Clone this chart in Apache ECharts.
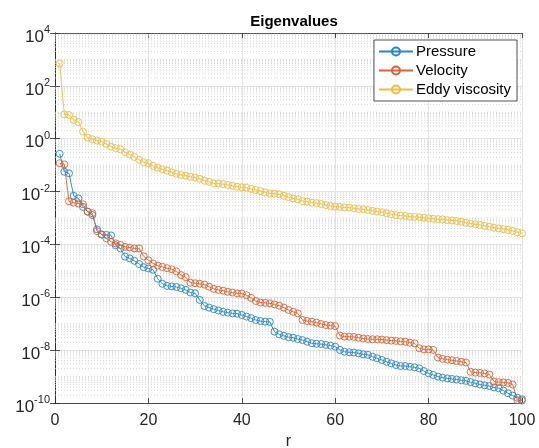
<!DOCTYPE html>
<html>
<head>
<meta charset="utf-8">
<script src="https://cdn.jsdelivr.net/npm/echarts@6/dist/echarts.min.js"></script>
<style>
html,body{margin:0;padding:0;background:#fff;}
#chart{width:539px;height:448px;}
</style>
</head>
<body>
<div id="chart"></div>
<script>
// r index 1..100
const r = Array.from({length: 100}, (_, i) => i + 1);

const pressure = [
2.69e-1,5.62e-2,4.90e-2,6.92e-3,5.50e-3,2.63e-3,1.74e-3,1.29e-3,3.72e-4,2.34e-4,
2.29e-4,2.19e-4,9.33e-5,7.08e-5,3.47e-5,2.95e-5,2.40e-5,1.82e-5,1.38e-5,1.23e-5,
1.10e-5,5.01e-6,3.24e-6,2.69e-6,2.57e-6,2.46e-6,2.19e-6,1.91e-6,1.51e-6,1.41e-6,
7.94e-7,4.68e-7,4.07e-7,3.55e-7,3.16e-7,2.82e-7,2.63e-7,2.46e-7,2.40e-7,2.14e-7,
1.86e-7,1.62e-7,1.38e-7,1.26e-7,1.20e-7,1.18e-7,5.01e-8,3.98e-8,3.47e-8,3.09e-8,
2.95e-8,2.63e-8,2.40e-8,2.09e-8,1.82e-8,1.74e-8,1.70e-8,1.58e-8,1.48e-8,1.35e-8,
1.02e-8,8.71e-9,8.32e-9,8.13e-9,7.59e-9,6.92e-9,6.61e-9,5.62e-9,4.90e-9,4.27e-9,
3.63e-9,3.16e-9,2.75e-9,2.51e-9,2.51e-9,2.34e-9,2.24e-9,2.04e-9,1.62e-9,1.32e-9,
1.15e-9,1.00e-9,9.12e-10,8.51e-10,8.13e-10,7.76e-10,7.24e-10,6.92e-10,6.17e-10,5.50e-10,
5.01e-10,4.68e-10,4.37e-10,3.89e-10,3.63e-10,2.95e-10,2.34e-10,1.91e-10,1.58e-10,1.38e-10
];

const velocity = [
1.18e-1,1.07e-1,4.27e-3,3.80e-3,3.55e-3,3.31e-3,1.74e-3,1.51e-3,3.16e-4,2.40e-4,
1.70e-4,1.26e-4,1.10e-4,9.55e-5,8.13e-5,7.59e-5,7.08e-5,7.08e-5,3.55e-5,2.51e-5,
1.91e-5,1.58e-5,1.41e-5,1.26e-5,1.15e-5,9.55e-6,6.92e-6,5.75e-6,3.55e-6,3.39e-6,
3.24e-6,3.02e-6,2.51e-6,2.09e-6,1.91e-6,1.78e-6,1.62e-6,1.51e-6,1.41e-6,1.38e-6,
1.20e-6,9.55e-7,7.24e-7,6.31e-7,6.17e-7,5.89e-7,5.37e-7,4.79e-7,4.07e-7,3.31e-7,
2.82e-7,2.46e-7,1.38e-7,1.26e-7,1.20e-7,1.10e-7,9.77e-8,8.91e-8,8.51e-8,8.13e-8,
3.55e-8,3.24e-8,3.24e-8,3.16e-8,2.95e-8,2.75e-8,2.63e-8,2.57e-8,2.57e-8,2.51e-8,
2.40e-8,2.29e-8,2.24e-8,2.14e-8,2.09e-8,1.91e-8,1.82e-8,1.18e-8,1.07e-8,1.07e-8,
1.02e-8,5.25e-9,4.68e-9,4.37e-9,4.17e-9,3.89e-9,3.63e-9,3.39e-9,1.51e-9,1.41e-9,
1.38e-9,1.32e-9,1.20e-9,6.46e-10,6.17e-10,6.03e-10,5.75e-10,5.01e-10,1.29e-10,1.23e-10
];

const eddyViscosity = [
7.08e2,8.32,7.94,5.13,4.27,1.86,1.10,9.55e-1,8.51e-1,7.76e-1,
6.31e-1,5.01e-1,4.37e-1,3.98e-1,3.09e-1,2.51e-1,2.04e-1,1.58e-1,1.29e-1,1.18e-1,
9.33e-2,7.94e-2,6.92e-2,6.17e-2,5.37e-2,4.68e-2,4.27e-2,3.98e-2,3.63e-2,3.39e-2,
3.02e-2,2.57e-2,2.34e-2,2.04e-2,2.00e-2,1.91e-2,1.78e-2,1.66e-2,1.51e-2,1.45e-2,
1.41e-2,1.26e-2,1.15e-2,1.05e-2,9.33e-3,8.51e-3,8.32e-3,7.94e-3,6.92e-3,6.17e-3,
5.50e-3,5.13e-3,4.37e-3,4.17e-3,3.80e-3,3.63e-3,3.39e-3,3.09e-3,2.82e-3,2.69e-3,
2.63e-3,2.51e-3,2.46e-3,2.34e-3,2.19e-3,2.14e-3,2.00e-3,1.86e-3,1.74e-3,1.66e-3,
1.51e-3,1.38e-3,1.29e-3,1.23e-3,1.20e-3,1.12e-3,1.10e-3,1.07e-3,1.02e-3,9.77e-4,
9.33e-4,9.12e-4,8.91e-4,8.32e-4,8.13e-4,7.76e-4,7.24e-4,6.61e-4,6.17e-4,5.75e-4,
5.50e-4,5.01e-4,4.68e-4,4.27e-4,4.07e-4,3.80e-4,3.55e-4,3.24e-4,2.88e-4,2.63e-4
];

const seriesNames = ['Pressure', 'Velocity', 'Eddy viscosity'];
const xTicks = [0, 20, 40, 60, 80, 100];
const yTickExponents = [-10, -8, -6, -4, -2, 0, 2, 4];

const colors = ['#2a86c6', '#dc6232', '#eebd45'];
const FONT = '"Liberation Sans", Arial, Helvetica, sans-serif';
const AX = '#262626';

// minor (dotted) horizontal grid lines at k*10^e, drawn as broken line segments across the x range
const minorGridData = [];
for (let e = yTickExponents[0]; e < yTickExponents[yTickExponents.length - 1]; e++) {
  for (let k = 1; k <= 9; k++) {
    if (k === 1 && yTickExponents.indexOf(e) >= 0) continue;
    const v = k * Math.pow(10, e);
    minorGridData.push([xTicks[0], v], [xTicks[xTicks.length - 1], v], [xTicks[xTicks.length - 1], '-']);
  }
}

function pairs(arr) { return arr.map((v, i) => [r[i], v]); }

const chart = echarts.init(document.getElementById('chart'), null, { renderer: 'canvas' });

const mkSeries = (name, data, color) => ({
  name: name,
  type: 'line',
  data: pairs(data),
  symbol: 'circle',
  symbolSize: 7,
  showSymbol: true,
  lineStyle: { color: color, width: 0.9 },
  itemStyle: { color: 'rgba(255,255,255,0)', borderColor: color, borderWidth: 0.9 },
  emphasis: { disabled: true },
  z: 3
});

const tickStyle = { show: true, inside: true, length: 5, lineStyle: { color: AX, width: 0.8 } };
const lineStyleAx = { show: true, lineStyle: { color: AX, width: 0.8 } };

chart.setOption({
  animation: false,
  backgroundColor: '#fff',
  title: {
    text: 'Eigenvalues',
    left: 289, textAlign: 'center', top: 9,
    textStyle: { fontFamily: FONT, fontSize: 15, fontWeight: 'bold', color: '#000' }
  },
  grid: {
    left: 55, right: 17, top: 33, bottom: 45,
    show: false, containLabel: false, outerBoundsMode: 'none'
  },
  legend: {
    data: seriesNames,
    orient: 'vertical',
    right: 22, top: 40,
    itemWidth: 34, itemHeight: 10, itemGap: 4,
    padding: [4, 6, 4, 4],
    borderColor: AX, borderWidth: 0.8,
    backgroundColor: '#fff',
    textStyle: { fontFamily: FONT, fontSize: 15, color: '#000', padding: [0, 0, 0, -2] }
  },
  xAxis: [{
    type: 'value', min: 0, max: 100, interval: 20,
    name: 'r', nameLocation: 'middle', nameGap: 27,
    nameTextStyle: { fontFamily: FONT, fontSize: 16, color: AX },
    axisLine: lineStyleAx,
    axisTick: tickStyle,
    axisLabel: { fontFamily: FONT, fontSize: 16, color: AX, margin: 10,
      formatter: v => (xTicks.indexOf(v) >= 0 ? String(v) : '') },
    splitLine: { show: true, lineStyle: { color: '#e3e3e3', width: 1 } }
  }, {
    type: 'value', min: 0, max: 100, interval: 20, position: 'top',
    axisLine: lineStyleAx, axisTick: tickStyle,
    axisLabel: { show: false }, splitLine: { show: false }
  }],
  yAxis: [{
    type: 'log', logBase: 10, min: 1e-10, max: 1e4, interval: 2,
    axisLine: lineStyleAx,
    axisTick: tickStyle,
    axisLabel: {
      fontFamily: FONT, color: AX, margin: 5,
      formatter: v => {
        const e = Math.round(Math.log10(v));
        return '{b|10}{s|' + e + '}';
      },
      rich: {
        b: { fontFamily: FONT, fontSize: 17, color: AX, padding: [8, 0, 0, 0] },
        s: { fontFamily: FONT, fontSize: 11, color: AX, padding: [0, 0, 6, 0] }
      }
    },
    splitLine: { show: true, lineStyle: { color: '#e3e3e3', width: 1 } }
  }, {
    type: 'log', logBase: 10, min: 1e-10, max: 1e4, interval: 2, position: 'right',
    axisLine: lineStyleAx, axisTick: tickStyle,
    axisLabel: { show: false }, splitLine: { show: false }
  }],
  series: [
    {
      name: '_minorgrid', type: 'line', data: minorGridData, silent: true, z: 1,
      symbol: 'none', connectNulls: false,
      lineStyle: { color: '#cdcdcd', type: [1, 2], width: 0.8 },
      emphasis: { disabled: true }
    },
    mkSeries(seriesNames[0], pressure, colors[0]),
    mkSeries(seriesNames[1], velocity, colors[1]),
    mkSeries(seriesNames[2], eddyViscosity, colors[2])
  ]
});
</script>
</body>
</html>
